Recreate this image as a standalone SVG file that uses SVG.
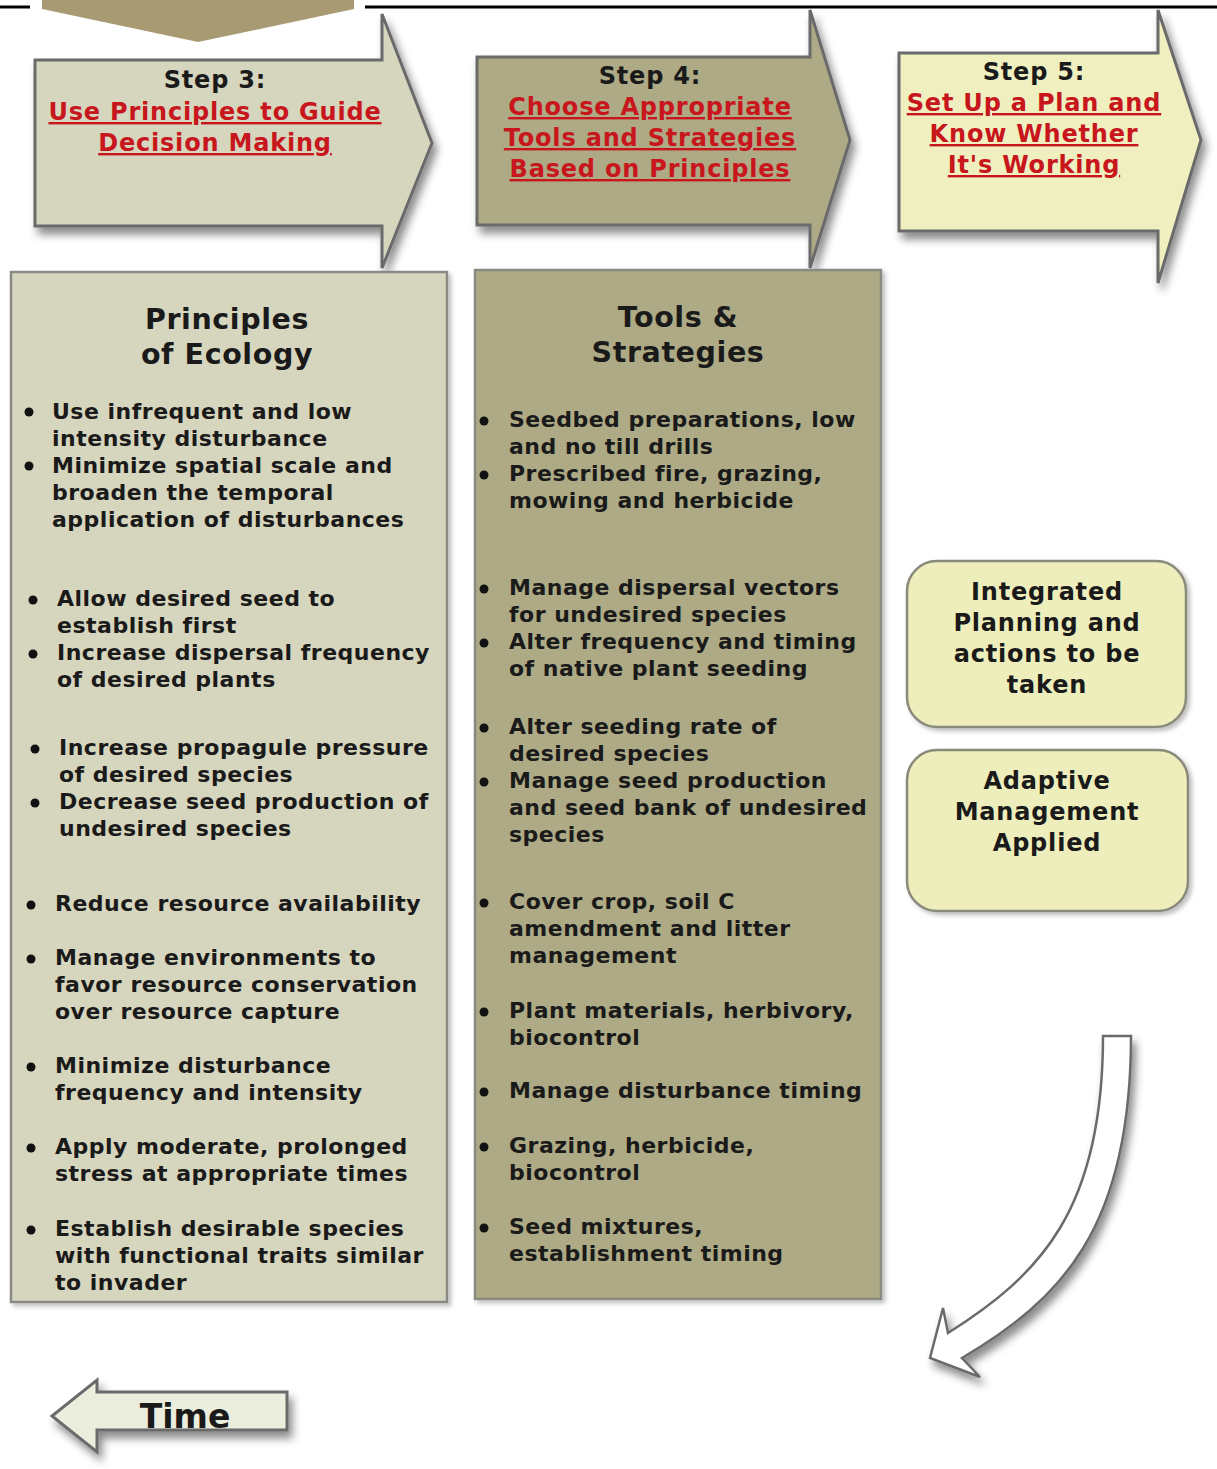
<svg xmlns="http://www.w3.org/2000/svg" width="1217" height="1469" viewBox="0 0 1217 1469">
<defs>
<filter id="sh" x="-20%" y="-20%" width="150%" height="150%">
<feDropShadow dx="4" dy="7" stdDeviation="4" flood-color="#000" flood-opacity="0.45"/>
</filter>
<filter id="sh2" x="-20%" y="-20%" width="150%" height="150%">
<feDropShadow dx="3" dy="3" stdDeviation="2" flood-color="#000" flood-opacity="0.25"/>
</filter>
</defs>
<style>
text{font-family:"DejaVu Sans","Verdana",sans-serif;font-weight:bold;fill:#1a1a1a}
.st{font-size:24px;letter-spacing:0.8px;text-anchor:middle}
.lk{font-size:24px;letter-spacing:0.8px;text-anchor:middle;fill:#c8161d;text-decoration:underline}
.ti{font-size:28.5px;letter-spacing:0.6px;text-anchor:middle}
.b{font-size:22px;letter-spacing:0.5px}
.rb{font-size:24px;letter-spacing:0.8px;text-anchor:middle}
.arr{stroke:#6b6b6b;stroke-width:3;stroke-linejoin:miter}
.box{stroke:#8a8a84;stroke-width:2.5}
.dot{fill:#111}
</style>
<rect width="1217" height="1469" fill="#ffffff"/>

<g id="topbar">
<line x1="0" y1="7" x2="30" y2="7" stroke="#000" stroke-width="3"/>
<line x1="365" y1="7" x2="1217" y2="7" stroke="#000" stroke-width="3"/>
<polygon points="42,0 354,0 354,9 198,42 42,9" fill="#a89b74"/>
</g>

<g id="step3">
<path class="arr" filter="url(#sh)" d="M35,60 L382,60 L382,14 L432,143 L382,268 L382,226 L35,226 Z" fill="#d6d5bd"/>
<text class="st" x="215" y="88">Step 3:</text>
<text class="lk" x="215" y="120">Use Principles to Guide</text>
<text class="lk" x="215" y="151">Decision Making</text>
</g>

<g id="step4">
<path class="arr" filter="url(#sh)" d="M477,57 L810,57 L810,10 L850,140 L810,268 L810,225 L477,225 Z" fill="#adaa85"/>
<text class="st" x="650" y="84">Step 4:</text>
<text class="lk" x="650" y="115">Choose Appropriate</text>
<text class="lk" x="650" y="146">Tools and Strategies</text>
<text class="lk" x="650" y="177">Based on Principles</text>
</g>

<g id="step5">
<path class="arr" filter="url(#sh)" d="M899,53 L1158,53 L1158,10 L1201,140 L1158,283 L1158,231 L899,231 Z" fill="#efefc0"/>
<text class="st" x="1034" y="80">Step 5:</text>
<text class="lk" x="1034" y="111">Set Up a Plan and</text>
<text class="lk" x="1034" y="142">Know Whether</text>
<text class="lk" x="1034" y="173">It's Working</text>
</g>

<g id="principles">
<rect class="box" x="11" y="272" width="436" height="1030" fill="#d6d5bd" filter="url(#sh2)"/>
<text class="ti" x="227" y="329">Principles</text>
<text class="ti" x="227" y="364">of Ecology</text>
<circle class="dot" cx="29" cy="412" r="4.5"/>
<text class="b" x="52" y="419">Use infrequent and low</text>
<text class="b" x="52" y="446">intensity disturbance</text>
<circle class="dot" cx="29" cy="466" r="4.5"/>
<text class="b" x="52" y="473">Minimize spatial scale and</text>
<text class="b" x="52" y="500">broaden the temporal</text>
<text class="b" x="52" y="527">application of disturbances</text>

<circle class="dot" cx="33" cy="600" r="4.5"/>
<text class="b" x="57" y="606">Allow desired seed to</text>
<text class="b" x="57" y="633">establish first</text>
<circle class="dot" cx="33" cy="654" r="4.5"/>
<text class="b" x="57" y="660">Increase dispersal frequency</text>
<text class="b" x="57" y="687">of desired plants</text>

<circle class="dot" cx="35" cy="749" r="4.5"/>
<text class="b" x="59" y="755">Increase propagule pressure</text>
<text class="b" x="59" y="782">of desired species</text>
<circle class="dot" cx="35" cy="803" r="4.5"/>
<text class="b" x="59" y="809">Decrease seed production of</text>
<text class="b" x="59" y="836">undesired species</text>

<circle class="dot" cx="31" cy="905" r="4.5"/>
<text class="b" x="55" y="911">Reduce resource availability</text>
<circle class="dot" cx="31" cy="959" r="4.5"/>
<text class="b" x="55" y="965">Manage environments to</text>
<text class="b" x="55" y="992">favor resource conservation</text>
<text class="b" x="55" y="1019">over resource capture</text>
<circle class="dot" cx="31" cy="1067" r="4.5"/>
<text class="b" x="55" y="1073">Minimize disturbance</text>
<text class="b" x="55" y="1100">frequency and intensity</text>
<circle class="dot" cx="31" cy="1148" r="4.5"/>
<text class="b" x="55" y="1154">Apply moderate, prolonged</text>
<text class="b" x="55" y="1181">stress at appropriate times</text>
<circle class="dot" cx="31" cy="1230" r="4.5"/>
<text class="b" x="55" y="1236">Establish desirable species</text>
<text class="b" x="55" y="1263">with functional traits similar</text>
<text class="b" x="55" y="1290">to invader</text>
</g>

<g id="tools">
<rect class="box" x="475" y="270" width="406" height="1029" fill="#adaa85" filter="url(#sh2)"/>
<text class="ti" x="678" y="327">Tools &amp;</text>
<text class="ti" x="678" y="362">Strategies</text>
<circle class="dot" cx="484" cy="421" r="4.5"/>
<text class="b" x="509" y="427">Seedbed preparations, low</text>
<text class="b" x="509" y="454">and no till drills</text>
<circle class="dot" cx="484" cy="475" r="4.5"/>
<text class="b" x="509" y="481">Prescribed fire, grazing,</text>
<text class="b" x="509" y="508">mowing and herbicide</text>

<circle class="dot" cx="484" cy="589" r="4.5"/>
<text class="b" x="509" y="595">Manage dispersal vectors</text>
<text class="b" x="509" y="622">for undesired species</text>
<circle class="dot" cx="484" cy="643" r="4.5"/>
<text class="b" x="509" y="649">Alter frequency and timing</text>
<text class="b" x="509" y="676">of native plant seeding</text>

<circle class="dot" cx="484" cy="728" r="4.5"/>
<text class="b" x="509" y="734">Alter seeding rate of</text>
<text class="b" x="509" y="761">desired species</text>
<circle class="dot" cx="484" cy="782" r="4.5"/>
<text class="b" x="509" y="788">Manage seed production</text>
<text class="b" x="509" y="815">and seed bank of undesired</text>
<text class="b" x="509" y="842">species</text>

<circle class="dot" cx="484" cy="903" r="4.5"/>
<text class="b" x="509" y="909">Cover crop, soil C</text>
<text class="b" x="509" y="936">amendment and litter</text>
<text class="b" x="509" y="963">management</text>

<circle class="dot" cx="484" cy="1012" r="4.5"/>
<text class="b" x="509" y="1018">Plant materials, herbivory,</text>
<text class="b" x="509" y="1045">biocontrol</text>

<circle class="dot" cx="484" cy="1092" r="4.5"/>
<text class="b" x="509" y="1098">Manage disturbance timing</text>

<circle class="dot" cx="484" cy="1147" r="4.5"/>
<text class="b" x="509" y="1153">Grazing, herbicide,</text>
<text class="b" x="509" y="1180">biocontrol</text>

<circle class="dot" cx="484" cy="1228" r="4.5"/>
<text class="b" x="509" y="1234">Seed mixtures,</text>
<text class="b" x="509" y="1261">establishment timing</text>
</g>

<g id="integrated">
<rect x="907" y="561" width="279" height="166" rx="30" ry="30" fill="#eeeebc" stroke="#8a8a7a" stroke-width="2.5" filter="url(#sh2)"/>
<text class="rb" x="1047" y="600">Integrated</text>
<text class="rb" x="1047" y="631">Planning and</text>
<text class="rb" x="1047" y="662">actions to be</text>
<text class="rb" x="1047" y="693">taken</text>
</g>

<g id="adaptive">
<rect x="907" y="750" width="281" height="161" rx="30" ry="30" fill="#eeeebc" stroke="#8a8a7a" stroke-width="2.5" filter="url(#sh2)"/>
<text class="rb" x="1047" y="789">Adaptive</text>
<text class="rb" x="1047" y="820">Management</text>
<text class="rb" x="1047" y="851">Applied</text>
</g>

<g id="connectors">
<path id="curved-arrow" filter="url(#sh)" d="M1103,1036 L1131,1036 C1131,1230 1060,1300 962,1358 L980,1377 L930,1358 L943,1308 L948,1333 C1040,1275 1103,1210 1103,1036 Z" fill="#ffffff" stroke="#6b6b6b" stroke-width="2.5" stroke-linejoin="miter"/>
</g>

<g id="time">
<path class="arr" filter="url(#sh)" d="M287,1392 L97,1392 L97,1380 L52,1416 L97,1452 L97,1430 L287,1430 Z" fill="#ebeddd"/>
<text x="185" y="1428" style="font-size:33px;text-anchor:middle">Time</text>
</g>
</svg>
